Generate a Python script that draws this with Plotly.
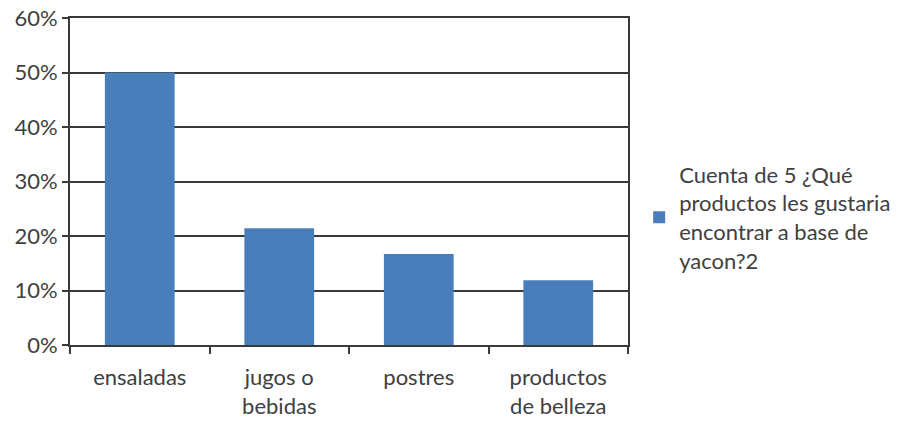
import plotly.graph_objects as go

# Survey answers: share of respondents per product type
categorias = ["ensaladas", "jugos o<br>bebidas", "postres", "productos<br>de belleza"]
porcentajes = [0.50, 0.214, 0.167, 0.119]
serie = "Cuenta de 5 ¿Qué<br>productos les gustaria<br>encontrar a base de<br>yacon?2"

y_ticks = [0, 0.1, 0.2, 0.3, 0.4, 0.5, 0.6]

FONT = "Lato"
TEXT = "#404040"
LINE = "#3a3a3a"

fig = go.Figure()
fig.add_trace(go.Bar(
    x=categorias,
    y=porcentajes,
    name=serie,
    marker=dict(color="#4A7EBB", line=dict(width=0)),
    showlegend=True,
))

fig.update_layout(
    width=922,
    height=426,
    margin=dict(l=70, r=294, t=18, b=81, autoexpand=False),
    paper_bgcolor="white",
    plot_bgcolor="white",
    bargap=0.5,
    font=dict(family=FONT, size=22, color=TEXT),
    legend=dict(
        x=1.02, xanchor="left",
        y=0.39, yanchor="middle",
        font=dict(family=FONT, size=22, color=TEXT),
        bgcolor="rgba(0,0,0,0)",
        itemwidth=30,
        tracegroupgap=0,
    ),
)

fig.update_xaxes(
    automargin=False,
    showline=True, linecolor=LINE, linewidth=2,
    mirror=True,
    ticks="outside", tickson="boundaries", ticklen=7,
    tickcolor=LINE, tickwidth=2,
    ticklabelstandoff=12,
    showgrid=False,
    tickfont=dict(family=FONT, size=22, color=TEXT),
)

fig.update_yaxes(
    automargin=False,
    range=[0, 0.6],
    tickvals=y_ticks,
    tickformat=".0%",
    showline=True, linecolor=LINE, linewidth=2,
    mirror=True,
    ticks="outside", ticklen=6, tickcolor=LINE, tickwidth=2,
    showgrid=True, gridcolor=LINE, gridwidth=2,
    zeroline=False,
    tickfont=dict(family=FONT, size=22, color=TEXT),
)

fig.write_html("out.html")
